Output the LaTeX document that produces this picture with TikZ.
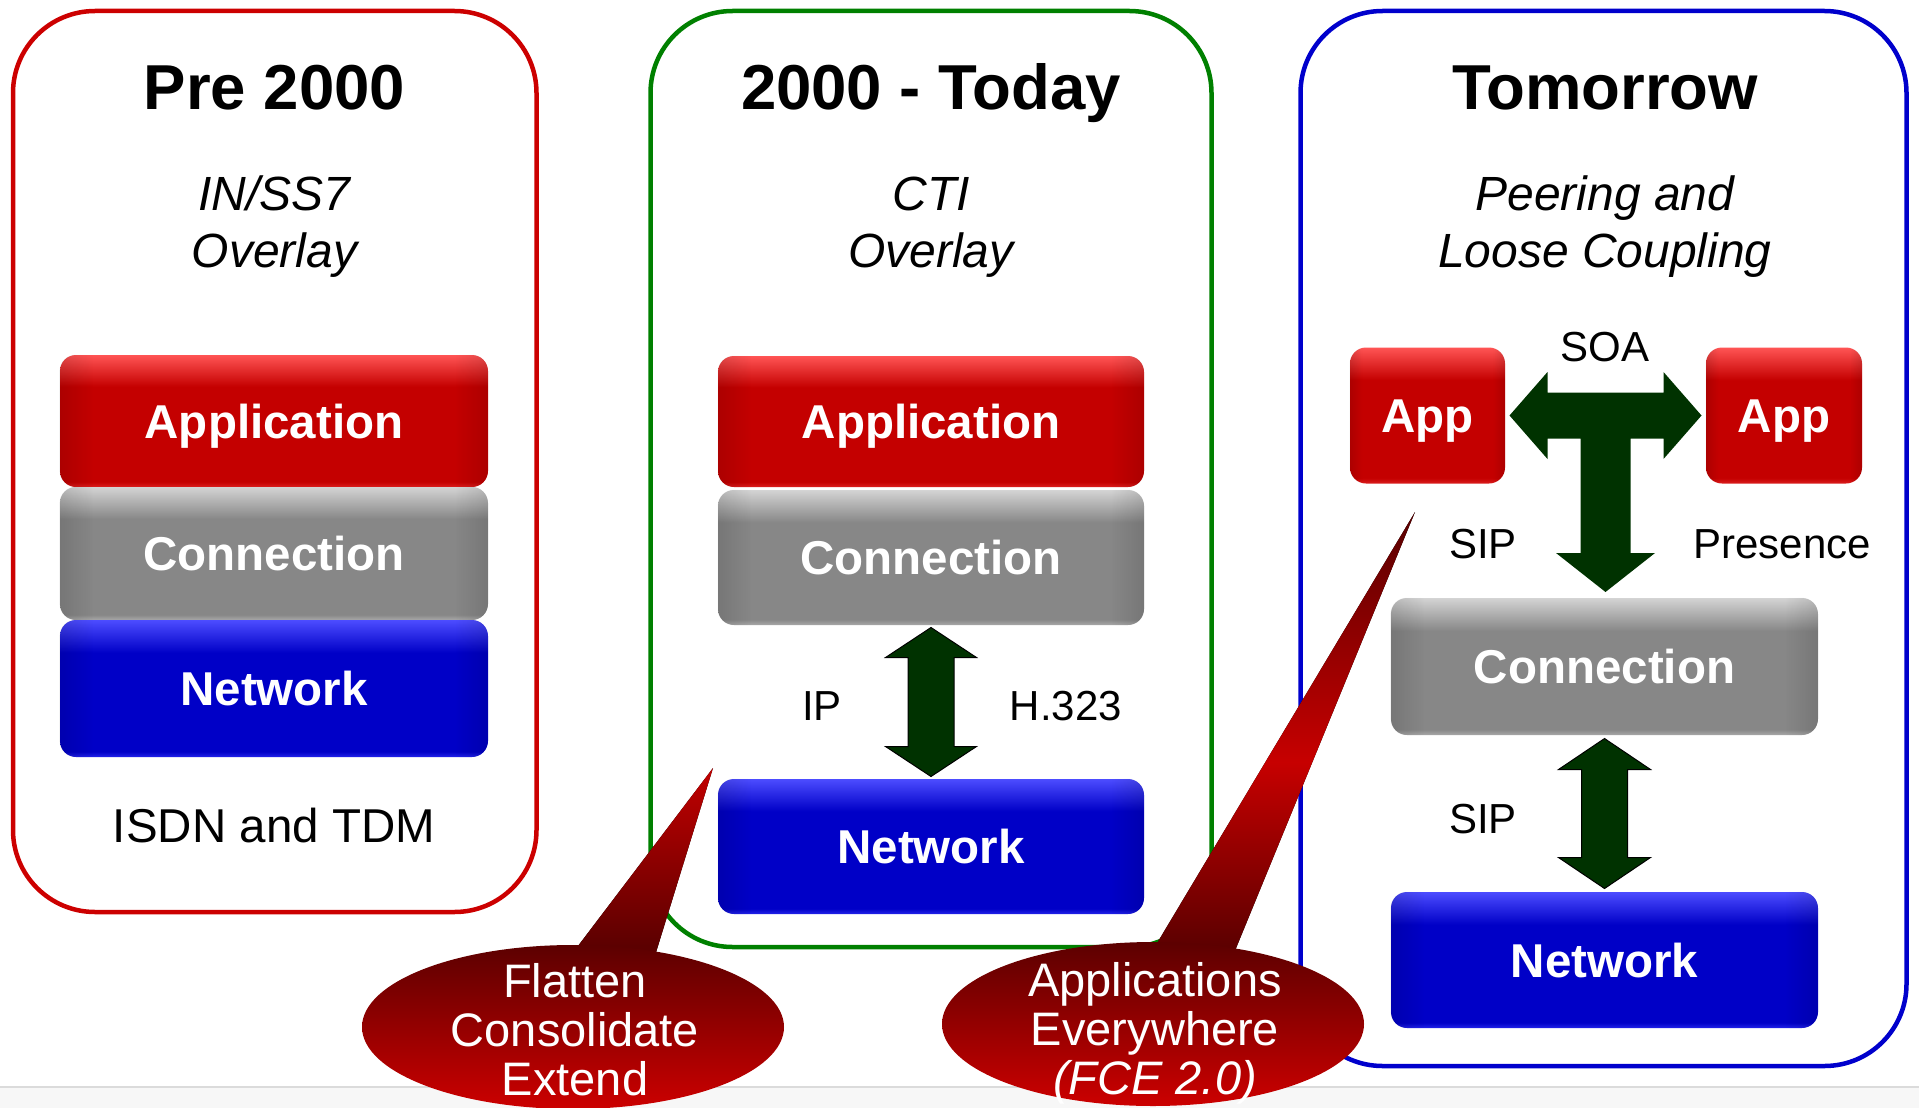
\documentclass[tikz,border=0pt]{standalone}
\usepackage{fontspec}
\setmainfont{Liberation Sans}
\usetikzlibrary{shapes.geometric,calc,fadings}

% colours
\definecolor{framered}{RGB}{204,0,0}
\definecolor{framegreen}{RGB}{0,128,0}
\definecolor{frameblue}{RGB}{0,0,204}
\definecolor{arrowgreen}{RGB}{0,50,0}
\definecolor{bubbledark}{RGB}{92,0,0}
\definecolor{bubblebright}{RGB}{204,0,0}

% glossy fills for the layer boxes (25bp = bottom edge, 75bp = top edge)
\pgfdeclareverticalshading{glossred}{100bp}{rgb(0bp)=(0.86,0.12,0.12); rgb(25bp)=(0.86,0.12,0.12); rgb(27bp)=(0.77,0,0); rgb(63bp)=(0.77,0,0); rgb(75bp)=(1,0.33,0.33); rgb(100bp)=(1,0.33,0.33)}
\pgfdeclareverticalshading{glossgray}{100bp}{rgb(0bp)=(0.66,0.66,0.66); rgb(25bp)=(0.66,0.66,0.66); rgb(27bp)=(0.53,0.53,0.53); rgb(63bp)=(0.53,0.53,0.53); rgb(75bp)=(0.83,0.83,0.83); rgb(100bp)=(0.83,0.83,0.83)}
\pgfdeclareverticalshading{glossblue}{100bp}{rgb(0bp)=(0.14,0.14,0.92); rgb(25bp)=(0.14,0.14,0.92); rgb(27bp)=(0,0,0.78); rgb(63bp)=(0,0,0.78); rgb(75bp)=(0.3,0.3,1); rgb(100bp)=(0.3,0.3,1)}
% darker bevel bands along the left and right sides of a box
\pgfdeclarehorizontalshading{sidemask}{100bp}{color(0bp)=(white); color(25bp)=(white); color(29bp)=(black); color(71bp)=(black); color(75bp)=(white); color(100bp)=(white)}
\pgfdeclarefading{sidebands}{\pgfuseshading{sidemask}}
% callout pointers
\pgfdeclareverticalshading{pointerup}{100bp}{rgb(0bp)=(0.36,0,0); rgb(32bp)=(0.36,0,0); rgb(75bp)=(0.76,0,0); rgb(100bp)=(0.76,0,0)}
\pgfdeclareverticalshading{pointerlong}{100bp}{rgb(0bp)=(0.36,0,0); rgb(28bp)=(0.36,0,0); rgb(48bp)=(0.78,0,0); rgb(75bp)=(0.34,0,0); rgb(100bp)=(0.34,0,0)}

\newcommand\boxbevel[1]{%
  \fill[black, opacity=0.12, path fading=sidebands, rounded corners=16pt]
    (#1.south west) rectangle (#1.north east);}

\tikzset{
  frameline/.style={line width=4.5pt, rounded corners=82pt},
  layerbox/.style={rounded corners=16pt, inner sep=0pt, text=white,
    font=\bfseries\fontsize{47.5}{50}\selectfont, text height=34pt, text depth=0pt},
  appbox/.style={layerbox, shade, shading=glossred},
  connbox/.style={layerbox, shade, shading=glossgray},
  netbox/.style={layerbox, shade, shading=glossblue},
  wide/.style={minimum width=428pt},
  title/.style={anchor=base, inner sep=0pt, font=\bfseries\fontsize{63.5}{70}\selectfont},
  subtitle/.style={anchor=base, inner sep=0pt, font=\itshape\fontsize{48}{57}\selectfont},
  plain/.style={anchor=base, inner sep=0pt, font=\fontsize{47.5}{57}\selectfont},
  lbl/.style={anchor=base, inner sep=0pt, font=\fontsize{42}{48}\selectfont},
  blockarrow/.style={fill=arrowgreen, draw=black, line width=1pt, line join=miter},
  teearrow/.style={fill=arrowgreen, line join=miter},
  bubble/.style={ellipse, shade, top color=bubbledark, bottom color=bubblebright,
    minimum width=422pt, minimum height=164pt, inner sep=0pt},
  bubbletext/.style={anchor=base, inner sep=0pt, text=white, font=\fontsize{47}{49}\selectfont},
}

\begin{document}
\begin{tikzpicture}[x=1pt,y=-1pt]
\useasboundingbox (0,0) rectangle (1919,1108);
\clip (0,0) rectangle (1919,1108);

% strip along the lower edge
\fill[black!3] (0,1087) rectangle (1919,1108);
\draw[black!14, line width=1.5pt] (0,1087) -- (1919,1087);

% three era frames
\draw[frameline, draw=framered]   (13,11)    rectangle (536.5,912);
\draw[frameline, draw=framegreen] (650.5,11) rectangle (1211.5,947);
\draw[frameline, draw=frameblue]  (1300.5,11) rectangle (1906.5,1066);

% ---- Pre 2000 ----
\node[title]    (t1)  at (274.5,110) {Pre 2000};
\node[subtitle] (s1a) at (274.5,210) {IN/SS7};
\node[subtitle] (s1b) at (274.5,267) {Overlay};
\node[appbox,  wide, minimum height=132pt] (app1)  at (274,421)   {Application};
\boxbevel{app1}
\node[connbox, wide, minimum height=133pt] (conn1) at (274,553.5) {Connection};
\boxbevel{conn1}
\node[netbox,  wide, minimum height=137pt] (net1)  at (274,688.5) {Network};
\boxbevel{net1}
\node[plain] (isdn) at (274,842) {ISDN and TDM};

% ---- 2000 - Today ----
\node[title]    (t2)  at (931,110) {2000 - Today};
\node[subtitle] (s2a) at (931,210) {CTI};
\node[subtitle] (s2b) at (931,267) {Overlay};
\node[appbox,  minimum width=426pt, minimum height=131pt] (app2)  at (931,421.5) {Application};
\boxbevel{app2}
\node[connbox, minimum width=426pt, minimum height=135pt] (conn2) at (931,557.5) {Connection};
\boxbevel{conn2}
\node[netbox,  minimum width=426pt, minimum height=135pt] (net2)  at (931,846.5) {Network};
\boxbevel{net2}
\coordinate (m2) at ($(conn2.south)!0.5!(net2.north)$);
\path[blockarrow, shift={(m2)}]
  (0,-74.5) -- (45.5,-44.5) -- (23,-44.5) -- (23,44.5) -- (45.5,44.5) -- (0,74.5)
  -- (-45.5,44.5) -- (-23,44.5) -- (-23,-44.5) -- (-45.5,-44.5) -- cycle;
\node[lbl] (ip)   at (822,720)  {IP};
\node[lbl] (h323) at (1066,720) {H.323};

% ---- Tomorrow ----
\node[title]    (t3)  at (1605,110) {Tomorrow};
\node[subtitle] (s3a) at (1605,210) {Peering and};
\node[subtitle] (s3b) at (1605,267) {Loose Coupling};
\node[appbox, minimum width=155pt, minimum height=136pt] (app3a) at (1427.5,415.5) {App};
\boxbevel{app3a}
\node[appbox, minimum width=156pt, minimum height=136pt] (app3b) at (1784,415.5)   {App};
\boxbevel{app3b}
\node[connbox, minimum width=427pt, minimum height=137pt] (conn3) at (1604.5,666.5) {Connection};
\boxbevel{conn3}
\node[netbox,  minimum width=427pt, minimum height=136pt] (net3)  at (1604.5,960)   {Network};
\boxbevel{net3}
\node[lbl] (soa)  at (1605,361) {SOA};
\node[lbl] (sip1) at (1483,558) {SIP};
\node[lbl] (pres) at (1782,558) {Presence};
\node[lbl] (sip2) at (1483,833) {SIP};

% T-shaped arrow joining both apps and the connection layer
\coordinate (tm) at ($(app3a.east)!0.5!(app3b.west)$);
\path[teearrow, shift={(tm)}]
  (-96,0) -- (-58,-43.5) -- (-58,-23) -- (58,-23) -- (58,-43.5) -- (96,0)
  -- (58,43.5) -- (58,23) -- (25,23) -- (25,137.5) -- (49.5,137.5) -- (0,176.5)
  -- (-49.5,137.5) -- (-25,137.5) -- (-25,23) -- (-58,23) -- (-58,43.5) -- cycle;

% double arrow between connection and network
\coordinate (m3) at ($(conn3.south)!0.5!(net3.north)$);
\path[blockarrow, shift={(m3)}]
  (0,-75) -- (46,-44) -- (23,-44) -- (23,44) -- (46,44) -- (0,75)
  -- (-46,44) -- (-23,44) -- (-23,-44) -- (-46,-44) -- cycle;

% ---- callouts ----
\coordinate (p1) at (713,768);
\fill[shade, shading=pointerup] (p1) -- (556,975) -- (649,975) -- cycle;
\node[bubble] (c1) at (573,1027) {};
\node[bubbletext] (c1a) at (575,997)  {Flatten};
\node[bubbletext] (c1b) at (575,1046) {Consolidate};
\node[bubbletext] (c1c) at (575,1095) {Extend};

\coordinate (p2) at (1415,512);
\fill[shade, shading=pointerlong] (p2) -- (1138,975) -- (1225,975) -- cycle;
\node[bubble] (c2) at (1153,1024) {};
\node[bubbletext] (c2a) at (1155,996)  {Applications};
\node[bubbletext] (c2b) at (1155,1045) {Everywhere};
\node[bubbletext] (c2c) at (1155,1094) {\textit{(FCE 2.0)}};
\end{tikzpicture}
\end{document}
